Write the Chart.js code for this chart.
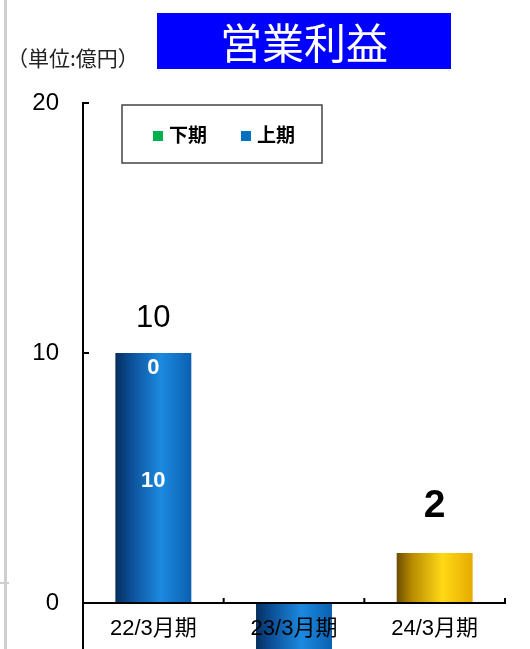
<!DOCTYPE html>
<html>
<head>
<meta charset="utf-8">
<script src="https://cdn.jsdelivr.net/npm/chart.js@4"></script>
<style>
  html, body { margin: 0; padding: 0; background: #fff; }
  body { width: 530px; height: 649px; overflow: hidden; position: relative;
         font-family: "Liberation Sans", "Noto Sans CJK JP", sans-serif; }
  #wrap { position: absolute; left: 0; top: 0; }
  .title { position: absolute; left: 157px; top: 13px; width: 294px; height: 56px;
           background: #0000ff; color: #fff; font-family: "Noto Sans CJK JP", sans-serif;
           font-size: 42px; line-height: 56px; text-align: center; }
  .unit { position: absolute; left: 7px; top: 43px; font-size: 21px; color: #222;
          font-family: "Noto Sans CJK JP", sans-serif; line-height: 28px; }
  .edge { position: absolute; left: 4px; top: 0; width: 3px; height: 649px; background: #cfcfcf; }
  .edge2 { position: absolute; left: 0; top: 582px; width: 9px; height: 2px; background: #cfcfcf; }
</style>
</head>
<body>
<div id="wrap"><canvas id="chart" width="530" height="900"></canvas></div>
<div class="edge"></div>
<div class="edge2"></div>
<div class="unit">（単位:億円）</div>
<div class="title">営業利益</div>
<script>
// data
const categories = ['22/3月期', '23/3月期', '24/3月期']
const firstHalf = [10, -5, null]   // 上期
const secondHalf = [0, 0, null]    // 下期
const forecast = [null, null, 2]   // 通期予想
const yTicks = [-10, 0, 10, 20]

const BAR_PCT = 0.54
const FONT = '"Liberation Sans", "Noto Sans CJK JP", sans-serif'

// cylinder-like shading across each bar
function cylinder(stops) {
  return function(ctx) {
    const chart = ctx.chart
    const x = chart.scales && chart.scales.x
    if (!chart.chartArea || !x || ctx.dataIndex === undefined) return stops[2]
    const cx = x.getPixelForValue(ctx.dataIndex)
    const half = (x.width / categories.length) * BAR_PCT / 2
    const g = chart.ctx.createLinearGradient(cx - half, 0, cx + half, 0)
    g.addColorStop(0, stops[0])
    g.addColorStop(0.2, stops[1])
    g.addColorStop(0.6, stops[2])
    g.addColorStop(1, stops[3])
    return g
  }
}

const blue = ['#062f5e', '#0b4e96', '#1c8ae0', '#0b60b0']
const green = ['#005a2a', '#008a40', '#20c060', '#00a050']
const gold = ['#6a4e00', '#b88a00', '#ffd916', '#e6ab00']

// inward tick marks on both axes
const tickPlugin = {
  id: 'inwardTicks',
  afterDraw(chart) {
    const { ctx, scales: { x, y } } = chart
    ctx.save()
    ctx.strokeStyle = '#000'
    ctx.lineWidth = 2
    y.ticks.forEach(t => {
      const py = y.getPixelForValue(t.value)
      ctx.beginPath()
      ctx.moveTo(y.right, py)
      ctx.lineTo(y.right + 6, py)
      ctx.stroke()
    })
    const zero = y.getPixelForValue(0)
    for (let i = 1; i <= categories.length; i++) {
      const px = x.left + x.width * i / categories.length
      ctx.beginPath()
      ctx.moveTo(px, zero + 1)
      ctx.lineTo(px, zero - 5)
      ctx.stroke()
    }
    ctx.restore()
  }
}

// value labels
const labelPlugin = {
  id: 'valueLabels',
  afterDatasetsDraw(chart) {
    const { ctx } = chart
    ctx.save()
    ctx.textAlign = 'center'
    ctx.textBaseline = 'middle'
    const upper = chart.getDatasetMeta(0)
    const lower = chart.getDatasetMeta(1)
    // segment labels (white, inside)
    ctx.fillStyle = '#fff'
    ctx.font = 'bold 22px ' + FONT
    categories.forEach((c, i) => {
      if (firstHalf[i] === null) return
      const b0 = upper.data[i]
      ctx.fillText(String(firstHalf[i]), b0.x, (b0.y + b0.base) / 2 + 3)
      const b1 = lower.data[i]
      ctx.fillText(String(secondHalf[i]), b1.x, Math.min(b1.y, b1.base) + 15)
    })
    // totals above the bars
    ctx.fillStyle = '#000'
    categories.forEach((c, i) => {
      if (firstHalf[i] !== null) {
        const total = firstHalf[i] + (secondHalf[i] || 0)
        if (total < 0) return
        const b = lower.data[i]
        ctx.font = '31px ' + FONT
        ctx.fillText(String(total), b.x, Math.min(b.y, upper.data[i].y) - 35)
      } else if (forecast[i] !== null) {
        const b = chart.getDatasetMeta(2).data[i]
        ctx.font = 'bold 39px ' + FONT
        ctx.fillText(String(forecast[i]), b.x, b.y - 47)
      }
    })
    ctx.restore()
  }
}

// boxed legend inside the plot
const legendPlugin = {
  id: 'boxLegend',
  afterDraw(chart) {
    const { ctx } = chart
    const items = [
      { text: chart.data.datasets[1].label, color: '#00b050', x: 153 },
      { text: chart.data.datasets[0].label, color: '#0070c0', x: 241 }
    ]
    ctx.save()
    ctx.fillStyle = '#fff'
    ctx.fillRect(122, 105, 200, 58)
    ctx.strokeStyle = '#444'
    ctx.lineWidth = 1.5
    ctx.strokeRect(122, 105, 200, 58)
    ctx.font = 'bold 19px "Noto Sans CJK JP", sans-serif'
    ctx.textBaseline = 'middle'
    items.forEach(it => {
      ctx.fillStyle = it.color
      ctx.fillRect(it.x, 131, 10, 10)
      ctx.fillStyle = '#000'
      ctx.fillText(it.text, it.x + 16, 135)
    })
    ctx.restore()
  }
}

new Chart(document.getElementById('chart'), {
  type: 'bar',
  data: {
    labels: categories,
    datasets: [
      {
        label: '上期',
        data: firstHalf,
        backgroundColor: cylinder(blue),
        barPercentage: BAR_PCT,
        categoryPercentage: 1
      },
      {
        label: '下期',
        data: secondHalf,
        backgroundColor: cylinder(green),
        barPercentage: BAR_PCT,
        categoryPercentage: 1
      },
      {
        label: '予想',
        data: forecast,
        backgroundColor: cylinder(gold),
        barPercentage: BAR_PCT,
        categoryPercentage: 1
      }
    ]
  },
  options: {
    responsive: false,
    devicePixelRatio: 1,
    animation: false,
    layout: {
      padding: { top: 103, right: 25, bottom: 47, left: 0 }
    },
    plugins: {
      legend: { display: false },
      tooltip: { enabled: false },
      title: { display: false }
    },
    scales: {
      x: {
        stacked: true,
        position: { y: 0 },
        grid: { display: false, drawTicks: false },
        border: { display: true, color: '#000', width: 2, z: 1 },
        ticks: {
          z: 1,
          color: '#000',
          padding: 13,
          font: { family: FONT, size: 22 }
        }
      },
      y: {
        stacked: true,
        min: -10,
        max: 20,
        afterFit: function(scale) { scale.width = 83 },
        afterBuildTicks: function(scale) {
          scale.ticks = yTicks.map(v => ({ value: v }))
        },
        grid: { display: false, drawTicks: false },
        border: { display: true, color: '#000', width: 2 },
        ticks: {
          color: '#000',
          padding: 24,
          font: { family: FONT, size: 24 }
        }
      }
    }
  },
  plugins: [tickPlugin, labelPlugin, legendPlugin]
})
</script>
</body>
</html>
